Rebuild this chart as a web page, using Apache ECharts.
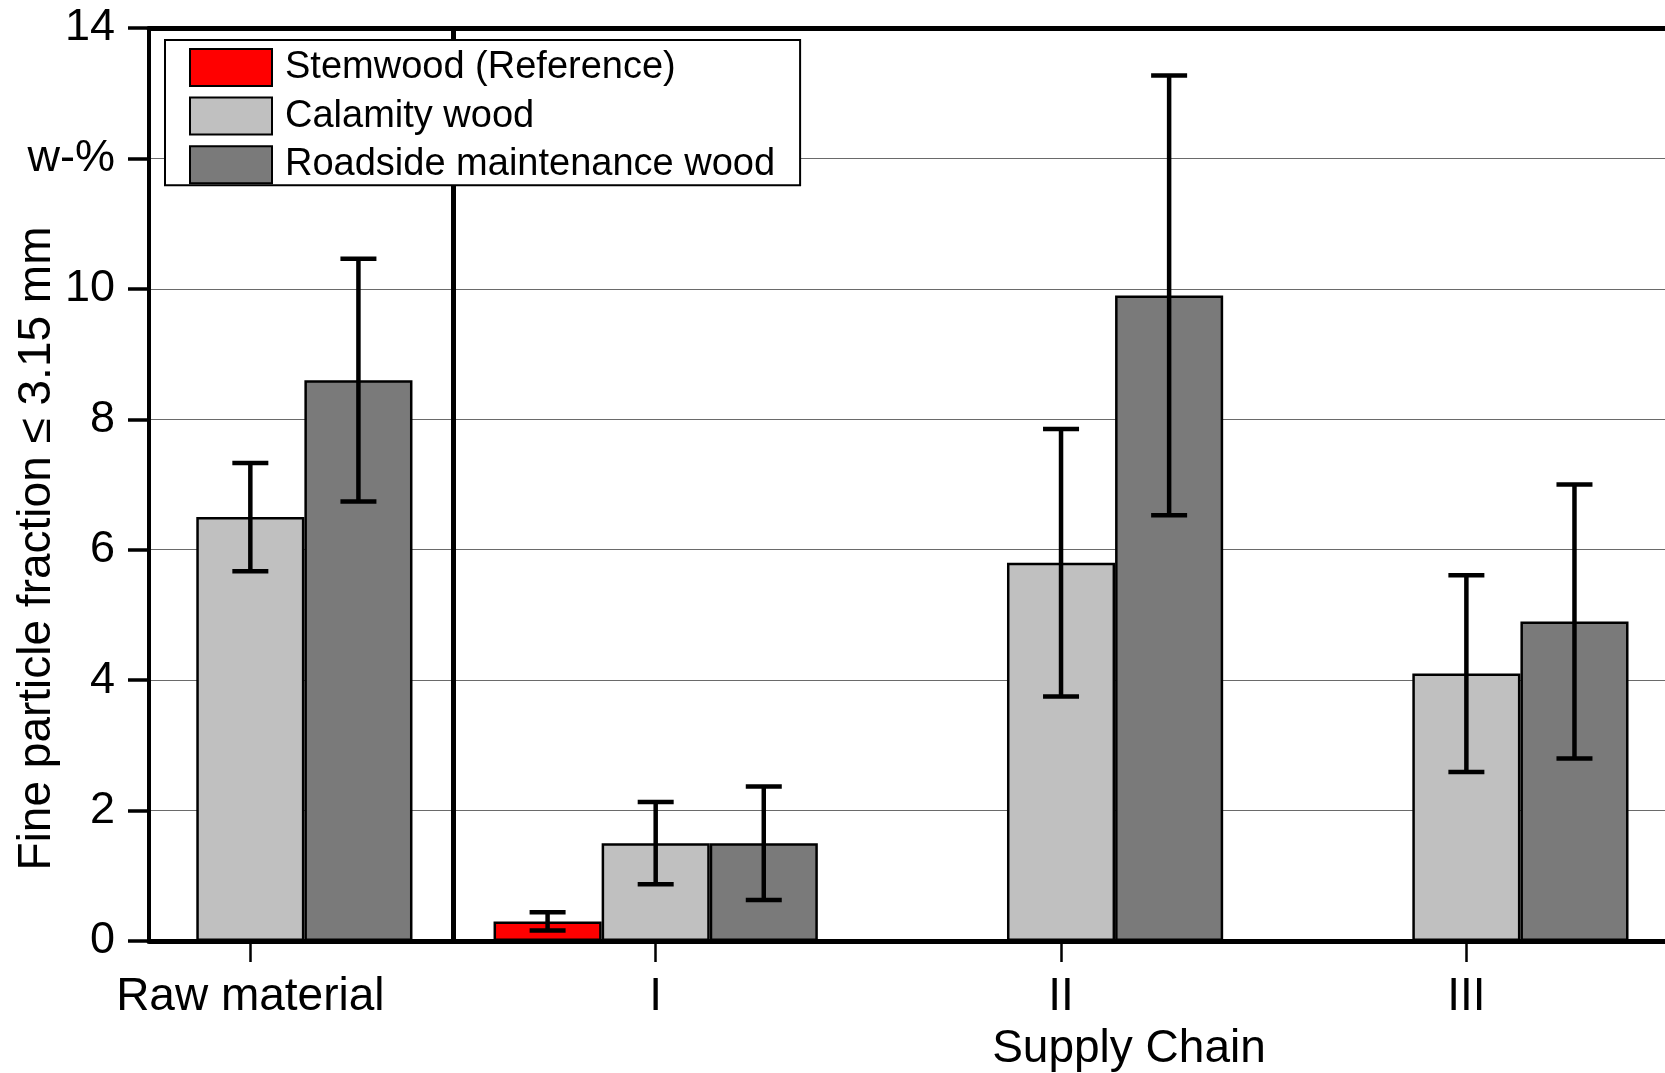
<!DOCTYPE html>
<html>
<head>
<meta charset="utf-8">
<style>
  html, body { margin: 0; padding: 0; background: #fff; }
  #chart { width: 1665px; height: 1073px; }
</style>
<script src="https://cdn.jsdelivr.net/npm/echarts@6/dist/echarts.min.js"></script>
</head>
<body>
<div id="chart"></div>
<script>
// ---- data ----
const categories = ['Raw material', 'I', 'II', 'III'];
const yTickLabels = ['0', '2', '4', '6', '8', '10', 'w-%', '14'];
const seriesNames = ['Stemwood (Reference)', 'Calamity wood', 'Roadside maintenance wood'];
const stemwood     = [null, 0.30, null, null];
const stemwoodErr  = [null, 0.14, null, null];
const calamity     = [6.50, 1.50, 5.80, 4.10];
const calamityErr  = [0.83, 0.63, 2.05, 1.51];
const roadside     = [8.60, 1.50, 9.90, 4.90];
const roadsideErr  = [1.86, 0.87, 3.37, 2.10];

const FONT = "'Liberation Sans', Arial, sans-serif";
const colors = ['#ff0000', '#c0c0c0', '#7a7a7a'];
const catGap = 0.2;                      // barCategoryGap 20%
const barUnit = (1 - catGap) / 3;         // width of one bar in category units

const means = [stemwood, calamity, roadside];
const errs  = [stemwoodErr, calamityErr, roadsideErr];

function barData(arr) {
  const out = [];
  arr.forEach((v, i) => { if (v !== null) out.push([i, v]); });
  return out;
}
function errData(k) {
  const out = [];
  means[k].forEach((v, i) => {
    if (v !== null) {
      out.push([i + (k - 1) * barUnit, v - errs[k][i], v + errs[k][i]]);
    }
  });
  return out;
}

const chart = echarts.init(document.getElementById('chart'), null, { renderer: 'canvas' });

const barSeries = means.map((arr, k) => {
  const s = {
    name: seriesNames[k],
    type: 'bar',
    xAxisIndex: 0,
    yAxisIndex: 0,
    data: barData(arr),
    barGap: '0%',
    barCategoryGap: (catGap * 100) + '%',
    itemStyle: { color: colors[k], borderColor: '#000', borderWidth: 2.5 },
    emphasis: { disabled: true },
    z: 2
  };
  if (k === 1) {
    s.markLine = {
      silent: true,
      symbol: ['none', 'none'],
      label: { show: false },
      lineStyle: { color: '#000', width: 5, type: 'solid' },
      emphasis: { disabled: true },
      data: [{ xAxis: 0.5 }]
    };
  }
  return s;
});

const errSeries = [0, 1, 2].map(k => ({
  name: seriesNames[k] + ' error',
  type: 'custom',
  xAxisIndex: 0,
  yAxisIndex: 0,
  z: 5,
  silent: true,
  data: errData(k),
  encode: { x: 0, y: [1, 2] },
  renderItem: function (params, api) {
    const x = api.value(0);
    const top = api.coord([x, api.value(2)]);
    const bot = api.coord([x, api.value(1)]);
    const hw = 18;
    const st = { stroke: '#000', lineWidth: 4.5 };
    return {
      type: 'group',
      children: [
        { type: 'line', shape: { x1: top[0], y1: top[1], x2: bot[0], y2: bot[1] }, style: st },
        { type: 'line', shape: { x1: top[0] - hw, y1: top[1], x2: top[0] + hw, y2: top[1] }, style: st },
        { type: 'line', shape: { x1: bot[0] - hw, y1: bot[1], x2: bot[0] + hw, y2: bot[1] }, style: st }
      ]
    };
  }
}));

const option = {
  animation: false,
  backgroundColor: '#fff',
  textStyle: { fontFamily: FONT },
  grid: { left: 149, right: 0, top: 28, bottom: 132, containLabel: false, outerBoundsMode: 'none' },
  legend: {
    data: seriesNames,
    orient: 'vertical',
    left: 165,
    top: 40,
    z: 50,
    padding: [8, 25, 1, 24],
    itemWidth: 82,
    itemHeight: 37,
    itemGap: 9.6,
    backgroundColor: '#fff',
    borderColor: '#000',
    borderWidth: 2,
    borderRadius: 0,
    icon: 'rect',
    selectedMode: false,
    textStyle: { fontFamily: FONT, fontSize: 38, color: '#000', lineHeight: 37, padding: [0, 0, 0, 8] }
  },
  xAxis: [
    {
      type: 'value',
      position: 'bottom',
      min: -0.25,
      max: 3.49,
      name: 'Supply Chain',
      nameLocation: 'middle',
      nameGap: 85,
      nameMoveOverlap: false,
      nameTextStyle: { fontFamily: FONT, fontSize: 46, color: '#000', lineHeight: 46, padding: [0, 0, 0, 444] },
      axisLine: { show: true, onZero: false, lineStyle: { color: '#000', width: 5 } },
      axisTick: { show: true, inside: false, length: 21, customValues: [0, 1, 2, 3], lineStyle: { color: '#000', width: 2.5 } },
      axisLabel: {
        show: true,
        customValues: [0, 1, 2, 3],
        margin: 33,
        fontFamily: FONT, fontSize: 46, color: '#000', lineHeight: 46,
        formatter: v => categories[Math.round(v)]
      },
      splitLine: { show: false }
    },
    {
      type: 'value',
      position: 'top',
      min: -0.25,
      max: 3.49,
      axisLine: { show: true, onZero: false, lineStyle: { color: '#000', width: 5 } },
      axisTick: { show: false },
      axisLabel: { show: false },
      splitLine: { show: false }
    }
  ],
  yAxis: {
    type: 'value',
    min: 0,
    max: 14,
    interval: 2,
    name: 'Fine particle fraction \u2264 3.15 mm',
    nameLocation: 'middle',
    nameRotate: 90,
    nameGap: 89,
    nameMoveOverlap: false,
    nameTextStyle: { fontFamily: FONT, fontSize: 46, color: '#000', lineHeight: 46, padding: [0, 128, 0, 0] },
    axisLine: { show: true, onZero: false, lineStyle: { color: '#000', width: 4 } },
    axisTick: { show: true, inside: false, length: 21, lineStyle: { color: '#000', width: 3.5 } },
    axisLabel: {
      margin: 34,
      fontFamily: FONT, fontSize: 45, color: '#000',
      formatter: v => yTickLabels[Math.round(v / 2)]
    },
    splitLine: { show: true, lineStyle: { color: '#6a6a6a', width: 1 } }
  },
  series: barSeries.concat(errSeries)
};

chart.setOption(option);
</script>
</body>
</html>
